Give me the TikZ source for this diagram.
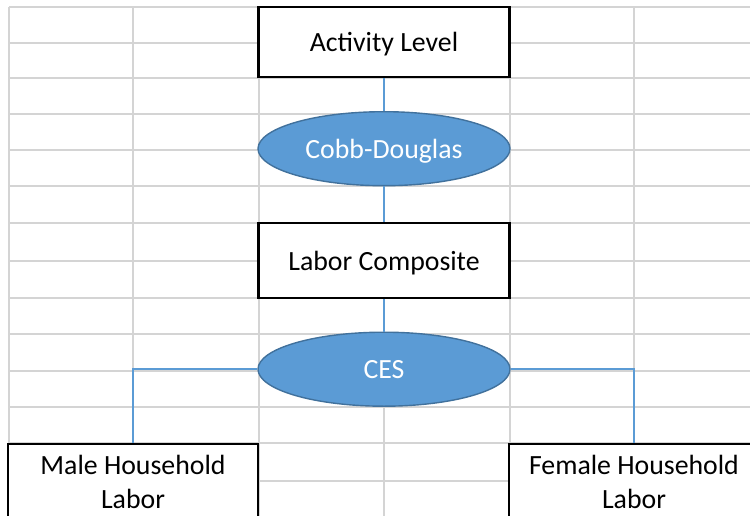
\documentclass[tikz,border=0pt]{standalone}
\usepackage{fontspec}
\setmainfont{Carlito}
\usetikzlibrary{shapes.geometric, positioning}
\definecolor{cellgrid}{HTML}{D4D4D4}
\definecolor{funcfill}{HTML}{5B9BD5}
\definecolor{funcline}{HTML}{41719C}

\begin{document}
\begin{tikzpicture}[x=1pt, y=-1pt, every node/.style={font=\fontsize{27.8}{34}\selectfont}]
  \tikzset{cellbox/.style={draw, line width=2.4pt, fill=white, minimum width=250pt, align=center, inner sep=0pt},
    func/.style={ellipse, draw=funcline, line width=1.4pt, fill=funcfill, text=white, minimum width=252pt, minimum height=74pt, inner sep=0pt, text depth=0pt},
    link/.style={draw=funcfill, line width=1.6pt}}
  \useasboundingbox (0,0) rectangle (750,516);
  \clip (0,0) rectangle (750,516);

  % worksheet cells behind the chart
  \foreach \r in {7,43,78,114,150,186,223,261,298,334,371,407,443,481}
    \draw[cellgrid, line width=1.4pt] (9,\r) -- (750,\r);
  \foreach \c in {9,133,259,384,510,634}
    \draw[cellgrid, line width=1.4pt] (\c,7) -- (\c,516);

  \node[cellbox, minimum width=251pt, minimum height=70pt, text depth=0pt] (activity) at (384,42) {Activity Level};
  \node[func] (cobb) at (384,148.7) {Cobb-Douglas};
  \node[cellbox, minimum width=251pt, minimum height=75pt, text depth=0pt] (labor) at (384,260.5) {Labor Composite};
  \node[func] (ces) at (384,369.2) {CES};

  % lower boxes run past the edge of the sheet
  \node[cellbox, anchor=north, inner ysep=11pt, text depth=20pt] (male) at (133,443) {Male Household\\Labor};
  \node[cellbox, anchor=north, inner ysep=11pt, text depth=20pt] (female) at (634,443) {Female Household\\Labor};

  \draw[link] (activity.south) -- (cobb.north);
  \draw[link] (cobb.south) -- (labor.north);
  \draw[link] (labor.south) -- (ces.north);
  \draw[link] (ces.west) -| (male.north);
  \draw[link] (ces.east) -| (female.north);
\end{tikzpicture}
\end{document}
